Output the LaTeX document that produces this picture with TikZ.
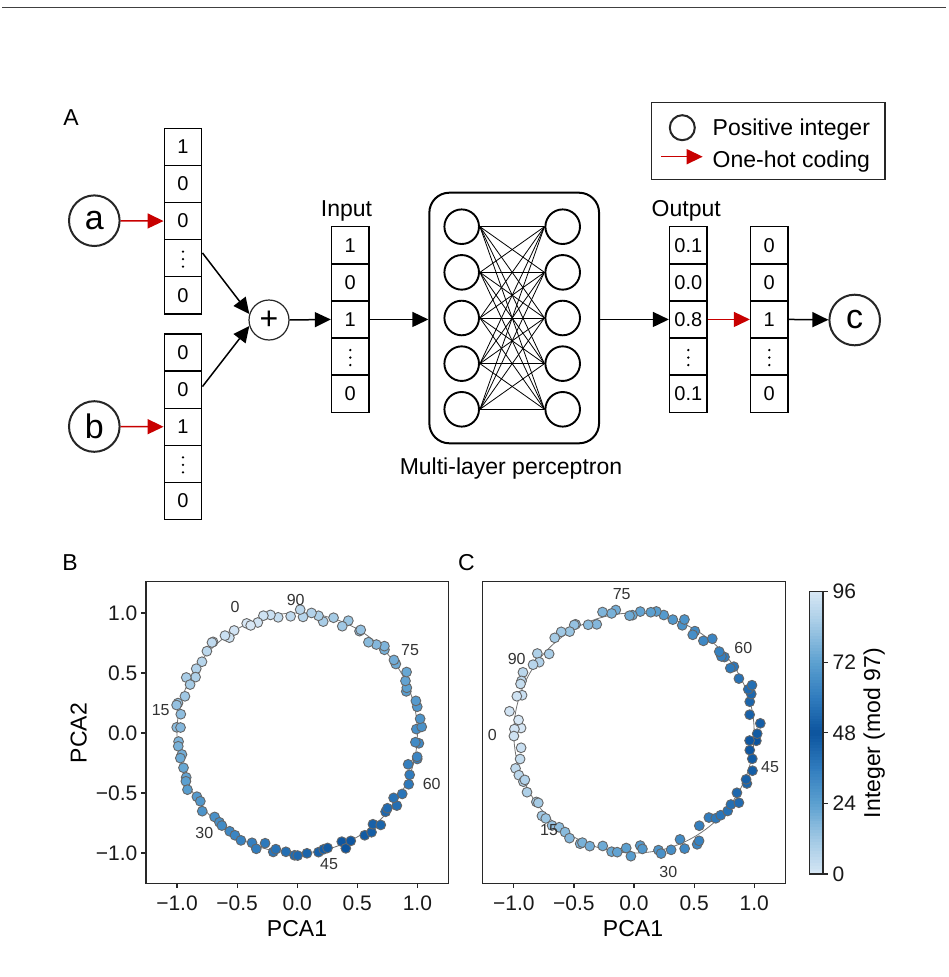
\documentclass[tikz,border=0pt]{standalone}
\usepackage{fontspec}
\setmainfont{Liberation Sans}
\usetikzlibrary{arrows.meta,calc}
\definecolor{redc}{RGB}{200,0,0}
\definecolor{cmap0}{RGB}{215,231,245}
\definecolor{cmap1}{RGB}{160,200,228}
\definecolor{cmap2}{RGB}{92,160,208}
\definecolor{cmap3}{RGB}{48,124,190}
\definecolor{cmap4}{RGB}{12,84,158}
\definecolor{axc}{RGB}{40,40,40}
\newcommand\fs[1]{\fontsize{#1}{#1}\selectfont}
\newcommand\mkvector[4]{\foreach \v [count=\i] in {#4} {\node[cell] (#1\i) at (#2,{#3+37.1*(\i-0.5)}) {\v};}}
\newcommand\ptcolor[1]{%
 \pgfmathsetmacro\tv{1-abs(#1-48)/48}%
 \pgfmathtruncatemacro\sg{min(3,floor(\tv*4))}%
 \pgfmathtruncatemacro\sgn{\sg+1}%
 \pgfmathsetmacro\pc{(\tv*4-\sg)*100}%
 \colorlet{ptc}{cmap\sgn!\pc!cmap\sg}}
\begin{document}
\begin{tikzpicture}[x=1pt,y=-1pt,
 cell/.style={draw=black, line width=1.4pt, minimum width=37.5pt, minimum height=37.1pt, inner sep=0pt, font=\fs{20}},
 intc/.style={circle, draw=black!85, line width=2pt, minimum size=50.6pt, inner sep=0pt, font=\fs{34}},
 arr/.style={line width=1.5pt, -{Triangle[length=16pt,width=15pt]}},
 redarr/.style={arr, draw=redc, fill=redc},
 neuron/.style={circle, draw=black, line width=1.9pt, minimum size=34.6pt, inner sep=0pt},
 lbl/.style={font=\fs{23}, inner sep=0pt},
 tick/.style={font=\fs{21}, inner sep=0pt, text=black!90},
 ann/.style={font=\fs{16}, inner sep=0pt, text=black!80},
 pt/.style={fill=ptc, draw=black!60, line width=0.9pt},
 frame/.style={draw=axc, line width=1.2pt},
]
\useasboundingbox (0,0) rectangle (948,977);
\fill[white] (0,0) rectangle (948,977);
\draw[line width=1pt, black!75] (2,7) -- (946,7);

% ---------------- Panel A ----------------
\node[lbl, anchor=base] (lA) at (71,125) {A};

\mkvector{av}{183}{128.3}{1,0,0,{},0}
\mkvector{bv}{183}{334}{0,0,1,{},0}
\mkvector{in}{350.3}{226.7}{1,0,1,{},0}
\mkvector{out}{688.3}{226.7}{0.1,0.0,0.8,{},0.1}
\mkvector{oh}{769.3}{226.7}{0,0,1,{},0}
\foreach \nm in {av4,bv4,in4,out4,oh4}
  \foreach \dy in {-6.5,1,8.5}
    \fill ($(\nm.center)+(0,\dy)$) circle (1.3pt);

\node[intc] (a) at (94.3,220.7) {a};
\node[intc] (b) at (94.3,426.5) {b};
\node[intc] (c) at (854.7,320) {c};
\node[circle, draw=black!85, line width=1.2pt, minimum size=40pt, inner sep=0pt, font=\fs{32}] (plus) at (269,320) {+};

\draw[redarr] (a) -- (av3.west);
\draw[redarr] (b) -- (bv3.west);
\draw[arr] (av4.15) -- (plus.163);
\draw[arr] (bv2.9) -- (plus.197);
\draw[arr] (plus.east) -- (in3.west);

\node[lbl, anchor=base] (inl) at (346.5,216.5) {Input};
\node[lbl, anchor=base] (outl) at (686.2,216.5) {Output};

% MLP
\node[draw=black, line width=2pt, rounded corners=20pt, minimum width=169.7pt, minimum height=250.6pt, inner sep=0pt] (mlp) at (514.2,318) {};
\foreach \i in {1,...,5} {
  \node[neuron] (L\i) at (461.7,{226.7+45.65*(\i-1)}) {};
  \node[neuron] (R\i) at (562.7,{226.7+45.65*(\i-1)}) {};
}
\foreach \i in {1,...,5}
  \foreach \j in {1,...,5}
    \draw[line width=0.8pt] (L\i.east) -- (R\j.west);
\node[lbl, anchor=base] (mlpl) at (511,474) {Multi-layer perceptron};

\draw[arr] (in3.east) -- (in3.east -| mlp.west);
\draw[arr] (out3.west -| mlp.east) -- (out3.west);
\draw[redarr] (out3.east) -- (oh3.west);
\draw[arr] (oh3.east) -- (c);

% legend
\node[draw=black!85, line width=1.5pt, minimum width=233.3pt, minimum height=76.6pt, inner sep=0pt] (leg) at (768.3,141) {};
\node[circle, draw=black!85, line width=2pt, minimum size=25pt, inner sep=0pt] (lgc) at (682.3,127.7) {};
\coordinate (lg1) at (661,156.7);
\coordinate (lg2) at (702.7,156.7);
\draw[redarr] (lg1) -- (lg2);
\node[lbl, anchor=base west] (lgt1) at (712.5,135.7) {Positive integer};
\node[lbl, anchor=base west] (lgt2) at (712.5,167.3) {One-hot coding};

% ---------------- Panel B ----------------
\node[lbl, anchor=base] (lB) at (70,570) {B};
\node[lbl, anchor=base] (lC) at (466.5,570) {C};

\draw[black!55, line width=0.8pt] (297.2,733) ellipse (120.2pt and 120pt);
\pgfmathsetseed{12}
\foreach \n in {0,...,96}{
  \pgfmathsetmacro\ang{116+3.7113*\n+2*rand}
  \pgfmathsetmacro\rr{1+0.03*rand+0.02*rand}
  \pgfmathsetmacro\px{297.2+120.2*\rr*cos(\ang)}
  \pgfmathsetmacro\py{733-120*\rr*sin(\ang)}
  \ptcolor{\n}
  \filldraw[pt] (\px,\py) circle (4.9pt);
}
\draw[frame] (146,581.7) rectangle (448.3,883.3);
\foreach \v/\t in {-1/−1.0,-0.5/−0.5,0/0.0,0.5/0.5,1/1.0} {
  \draw[frame] ({297.2+120.2*\v},883.3) -- ++(0,5);
  \node[tick, anchor=base] at ({297.2+120.2*\v},910) {\t};
  \draw[frame] (146,{733-120*\v}) -- ++(-5,0);
  \node[tick, anchor=east] at (137.5,{733-120*\v}) {\t};
}
\node[lbl, anchor=base] (xlB) at (297,936.7) {PCA1};
\node[lbl, anchor=base, rotate=90] (ylB) at (86.5,733) {PCA2};
\node[ann] at (235,607.3) {0};
\node[ann] at (295.7,600) {90};
\node[ann] at (410,650) {75};
\node[ann] at (160.7,710) {15};
\node[ann] at (431.7,784.3) {60};
\node[ann] at (204.3,833.3) {30};
\node[ann] at (329,864) {45};

% ---------------- Panel C ----------------
\draw[black!55, line width=0.8pt] (634,733) ellipse (120.2pt and 120pt);
\pgfmathsetseed{31}
\foreach \n in {0,...,96}{
  \pgfmathsetmacro\ang{176+3.7113*\n+2.5*rand}
  \pgfmathsetmacro\rr{1+0.05*rand+0.025*rand}
  \pgfmathsetmacro\px{634+120.2*\rr*cos(\ang)}
  \pgfmathsetmacro\py{733-120*\rr*sin(\ang)}
  \ptcolor{\n}
  \filldraw[pt] (\px,\py) circle (4.9pt);
}
\draw[frame] (482.8,581.7) rectangle (785.1,883.3);
\foreach \v/\t in {-1/−1.0,-0.5/−0.5,0/0.0,0.5/0.5,1/1.0} {
  \draw[frame] ({634+120.2*\v},883.3) -- ++(0,5);
  \node[tick, anchor=base] at ({634+120.2*\v},910) {\t};
}
\node[lbl, anchor=base] (xlC) at (633,936.7) {PCA1};
\node[ann] at (621.7,594) {75};
\node[ann] at (743.3,648.3) {60};
\node[ann] at (516.7,659.3) {90};
\node[ann] at (492.3,735) {0};
\node[ann] at (770,766.7) {45};
\node[ann] at (549,830) {15};
\node[ann] at (668.3,871.7) {30};

% colorbar
\foreach \k in {0,...,95}{
  \ptcolor{\k+0.5}
  \fill[ptc] (809.3,{874-2.9406*\k+0.4}) rectangle (822.9,{874-2.9406*(\k+1)-0.4});
}
\draw[frame] (809.3,591.7) rectangle (822.9,874);
\foreach \v in {0,24,48,72,96} {
  \draw[frame] (822.9,{874-2.9406*\v}) -- ++(5,0);
  \node[tick, anchor=west] at (832.5,{874-2.9406*\v}) {\v};
}
\node[lbl, anchor=base, rotate=90] (cbl) at (880,733) {Integer (mod 97)};
\end{tikzpicture}
\end{document}
